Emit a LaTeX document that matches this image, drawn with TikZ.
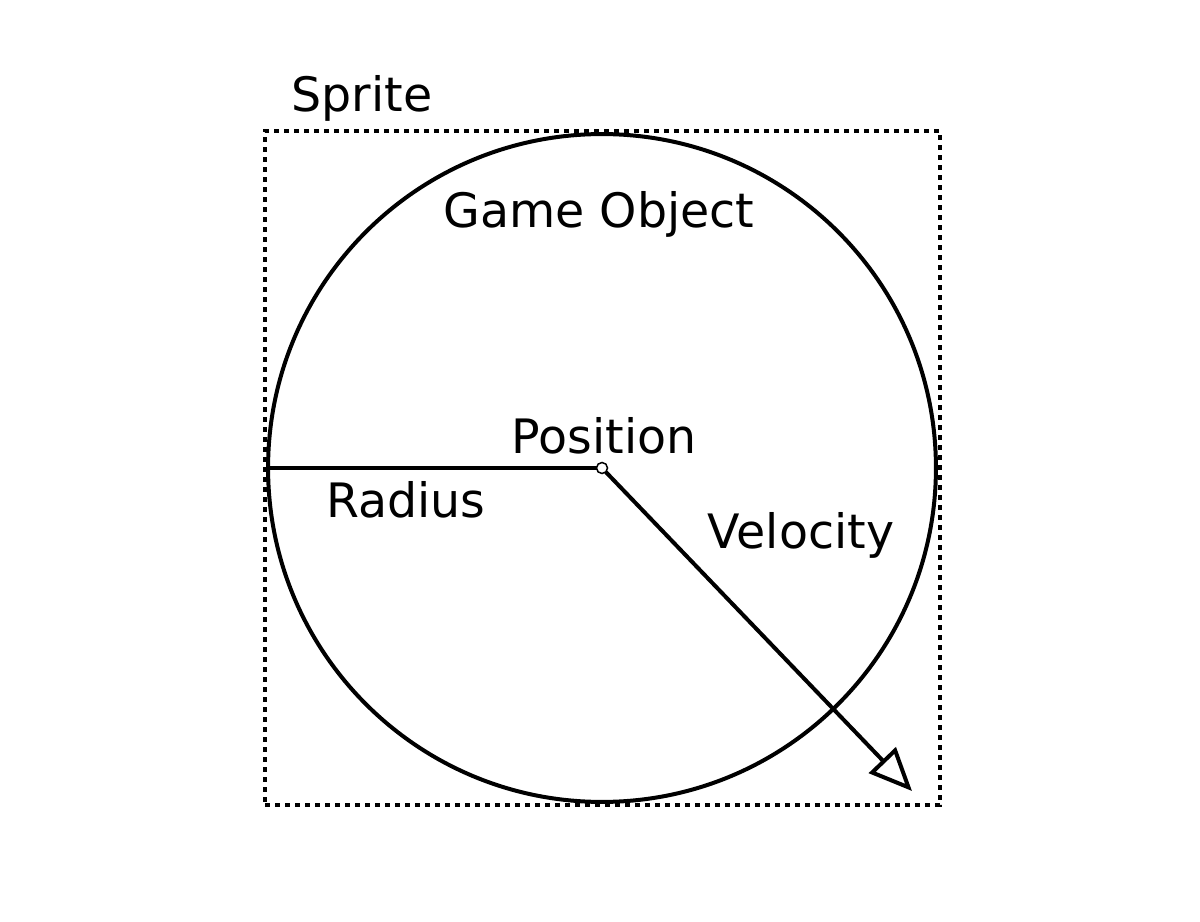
\documentclass[tikz,border=0pt]{standalone}
\usepackage{fontspec}
\setmainfont{DejaVu Sans}
\usetikzlibrary{positioning, arrows.meta}
\tikzset{x=0.02cm, y=-0.02cm,
	body/.style={circle, draw, line width=0.08cm, minimum size=13.36cm, inner sep=0pt},
	spritebox/.style={rectangle, draw, line width=0.09cm, dash pattern=on 0.1cm off 0.1cm, minimum width=13.5cm, minimum height=13.48cm, inner sep=0pt},
	caption/.style={font=\fontsize{27}{32}\selectfont, inner sep=0pt, anchor=base},
	centre/.style={circle, draw, fill=white, line width=0.03cm, minimum size=0.22cm, inner sep=0pt},
	vec/.style={line width=0.08cm, -{Triangle[open, length=0.86cm, width=0.74cm]}}}

\begin{document}
\begin{tikzpicture}
    \useasboundingbox (0,0) rectangle (1200,922);
    \node[spritebox] (sprite) at (602.5,468) {};
    \node[body] (obj) at (602,468) {};
    \coordinate (tip) at (912,791);
    \draw[line width=0.08cm] (obj.west) -- (602,468);
    \draw[vec] (602,468) -- (tip);
    \node[centre] (pos) at (602,468) {};
    \node[caption] (spritetext) at (362,112) {Sprite};
    \node[caption] (objtext) at (599,228) {Game Object};
    \node[caption] (postext) at (604,453) {Position};
    \node[caption] (radtext) at (406,517) {Radius};
    \node[caption] (veltext) at (801,548) {Velocity};
\end{tikzpicture}
\end{document}
